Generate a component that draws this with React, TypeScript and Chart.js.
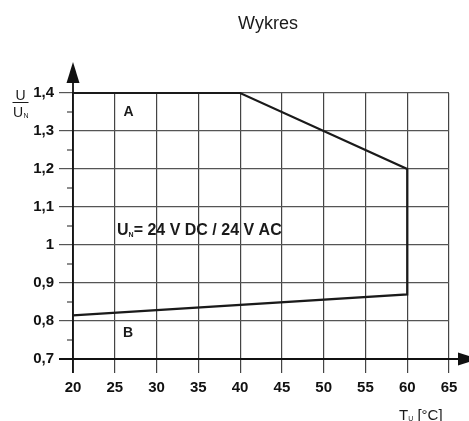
import React, { useEffect, useRef } from "react";
import { Chart, registerables } from "chart.js";

Chart.register(...registerables);

// ---- data ----
const tempC = [20, 40, 60, 60, 20];
const ratio = [1.4, 1.4, 1.2, 0.87, 0.815];
const xTickValues = [20, 25, 30, 35, 40, 45, 50, 55, 60, 65];
const xTickLabels = ["20", "25", "30", "35", "40", "45", "50", "55", "60", "65"];
const yTickValues = [0.7, 0.8, 0.9, 1.0, 1.1, 1.2, 1.3, 1.4];
const yTickLabels = ["0,7", "0,8", "0,9", "1", "1,1", "1,2", "1,3", "1,4"];
const yMinorTicks = [0.75, 0.85, 0.95, 1.05, 1.15, 1.25, 1.35];
const titleText = "Wykres";
const regionLabels = ["A", "B"];
const ratedMain = "U";
const ratedSub = "N";
const ratedRest = "= 24 V DC / 24 V AC";
const xTitleMain = "T";
const xTitleSub = "U";
const xTitleRest = " [°C]";
const yTitleTop = "U";
const yTitleBottom = "U";
const yTitleSub = "N";

const FONT = '"Liberation Sans", Arial, Helvetica, sans-serif';

const decor = {
  id: "decor",
  beforeDatasetsDraw(chart: any) {
    const { ctx, chartArea } = chart;
    const x = chart.scales.x;
    const y = chart.scales.y;
    const x0 = x.getPixelForValue(20);
    const y0 = y.getPixelForValue(0.7);
    ctx.save();
    // minor ticks on y axis
    ctx.strokeStyle = "#444";
    ctx.lineWidth = 1.2;
    for (const v of yMinorTicks) {
      const py = y.getPixelForValue(v);
      ctx.beginPath();
      ctx.moveTo(x0 - 6, py);
      ctx.lineTo(x0, py);
      ctx.stroke();
    }
    // axes
    ctx.strokeStyle = "#111";
    ctx.fillStyle = "#111";
    ctx.lineWidth = 1.8;
    ctx.beginPath();
    ctx.moveTo(x0, y0 + 14);
    ctx.lineTo(x0, chartArea.top - 12);
    ctx.stroke();
    ctx.beginPath();
    ctx.moveTo(x0 - 14, y0);
    ctx.lineTo(chartArea.right + 10, y0);
    ctx.stroke();
    // up arrow
    ctx.beginPath();
    ctx.moveTo(x0, chartArea.top - 31);
    ctx.lineTo(x0 - 6.5, chartArea.top - 10);
    ctx.lineTo(x0 + 6.5, chartArea.top - 10);
    ctx.closePath();
    ctx.fill();
    // right arrow
    ctx.beginPath();
    ctx.moveTo(chartArea.right + 30, y0);
    ctx.lineTo(chartArea.right + 9, y0 - 6.5);
    ctx.lineTo(chartArea.right + 9, y0 + 6.5);
    ctx.closePath();
    ctx.fill();
    ctx.restore();
  },
  afterDraw(chart: any) {
    const { ctx } = chart;
    const x = chart.scales.x;
    const y = chart.scales.y;
    ctx.save();
    ctx.fillStyle = "#1a1a1a";
    ctx.textBaseline = "alphabetic";
    // title
    ctx.font = `18px ${FONT}`;
    ctx.textAlign = "center";
    ctx.fillText(titleText, 268, 29);
    // region labels
    ctx.font = `bold 14px ${FONT}`;
    ctx.fillText(regionLabels[0], x.getPixelForValue(26.65), y.getPixelForValue(1.339));
    ctx.fillText(regionLabels[1], x.getPixelForValue(26.6), y.getPixelForValue(0.759));
    // rated voltage text
    ctx.textAlign = "left";
    let px = x.getPixelForValue(25.27);
    const py = y.getPixelForValue(1.026);
    ctx.font = `bold 16px ${FONT}`;
    ctx.fillText(ratedMain, px, py);
    px += ctx.measureText(ratedMain).width;
    ctx.font = `bold 7px ${FONT}`;
    ctx.fillText(ratedSub, px, py + 1.5);
    px += ctx.measureText(ratedSub).width;
    ctx.font = `bold 16px ${FONT}`;
    ctx.fillText(ratedRest, px, py);
    // y axis title (fraction)
    ctx.font = `14px ${FONT}`;
    ctx.textAlign = "center";
    ctx.fillText(yTitleTop, 20.5, 100);
    ctx.strokeStyle = "#1a1a1a";
    ctx.lineWidth = 1;
    ctx.beginPath();
    ctx.moveTo(12.5, 102.5);
    ctx.lineTo(28.5, 102.5);
    ctx.stroke();
    ctx.textAlign = "left";
    ctx.fillText(yTitleBottom, 13, 117);
    let bx = 13 + ctx.measureText(yTitleBottom).width + 0.5;
    ctx.font = `7px ${FONT}`;
    ctx.fillText(yTitleSub, bx, 118);
    // x axis title
    let tx = 399;
    ctx.font = `15px ${FONT}`;
    ctx.fillText(xTitleMain, tx, 420);
    tx += ctx.measureText(xTitleMain).width;
    ctx.font = `7px ${FONT}`;
    ctx.fillText(xTitleSub, tx, 421);
    tx += ctx.measureText(xTitleSub).width;
    ctx.font = `15px ${FONT}`;
    ctx.fillText(xTitleRest, tx, 420);
    ctx.restore();
  },
};

export default function App() {
  const ref = useRef<HTMLCanvasElement | null>(null);
  useEffect(() => {
    if (!ref.current) return;
    const chart = new Chart(ref.current, {
      type: "scatter",
      data: {
        datasets: [
          {
            data: tempC.map((t, i) => ({ x: t, y: ratio[i] })),
            showLine: true,
            borderColor: "#1a1a1a",
            borderWidth: 2.2,
            pointRadius: 0,
            pointHoverRadius: 0,
            fill: false,
            tension: 0,
            clip: false,
          } as any,
        ],
      },
      options: {
        animation: false,
        responsive: true,
        maintainAspectRatio: false,
        layout: { padding: { top: 93, right: 20, left: 0, bottom: 0 } },
        plugins: {
          legend: { display: false },
          title: { display: false },
          tooltip: { enabled: false },
        },
        scales: {
          x: {
            type: "linear",
            min: 20,
            max: 65,
            afterBuildTicks: (s: any) => {
              s.ticks = xTickValues.map((v) => ({ value: v }));
            },
            afterFit: (s: any) => {
              s.height = 62;
            },
            ticks: {
              autoSkip: false,
              maxRotation: 0,
              padding: 6,
              color: "#111",
              font: { family: FONT, size: 15, weight: "bold" },
              callback: (_v: any, i: number) => xTickLabels[i],
            },
            grid: { color: "#444", lineWidth: 1.2, tickLength: 14, tickColor: "#444" },
            border: { display: false },
          },
          y: {
            type: "linear",
            min: 0.7,
            max: 1.4,
            afterBuildTicks: (s: any) => {
              s.ticks = yTickValues.map((v) => ({ value: v }));
            },
            afterFit: (s: any) => {
              s.width = 73;
            },
            ticks: {
              autoSkip: false,
              padding: 5,
              color: "#111",
              font: { family: FONT, size: 15, weight: "bold" },
              callback: (_v: any, i: number) => yTickLabels[i],
            },
            grid: { color: "#555", lineWidth: 1.2, tickLength: 14, tickColor: "#555" },
            border: { display: false },
          },
        },
      } as any,
      plugins: [decor],
    });
    return () => chart.destroy();
  }, []);
  return (
    <div style={{ position: "absolute", left: 0, top: 0, width: 469, height: 421, background: "#fff" }}>
      <canvas ref={ref} />
    </div>
  );
}
